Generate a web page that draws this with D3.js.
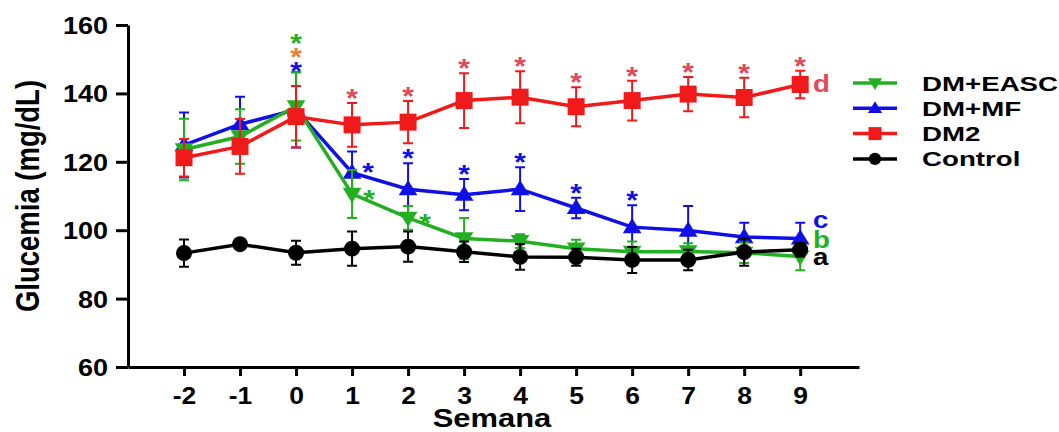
<!DOCTYPE html>
<html>
<head>
<meta charset="utf-8">
<script src="https://cdn.jsdelivr.net/npm/d3@7"></script>
<style>
  body { margin: 0; background: #fff; }
  svg text { font-family: "Liberation Sans", Arial, sans-serif; font-weight: bold; }
</style>
</head>
<body>
<div id="chart"></div>
<script>
// weeks (Semana)
var weeks = [-2, -1, 0, 1, 2, 3, 4, 5, 6, 7, 8, 9];
var yTicks = [60, 80, 100, 120, 140, 160];

// means and errors
var controlMean = [93.3, 95.9, 93.4, 94.6, 95.2, 93.7, 92.2, 92.1, 91.3, 91.3, 93.6, 94.3];
var controlErr  = [4.0, 1.0, 3.5, 5.0, 4.4, 3.0, 3.8, 2.5, 3.8, 3.0, 4.0, 2.0];
var dm2Mean = [121.2, 124.5, 133.2, 130.8, 131.6, 137.9, 138.9, 136.1, 137.9, 139.8, 138.8, 142.6];
var dm2Err  = [5.5, 8.0, 9.0, 6.4, 6.2, 8.0, 7.6, 5.7, 5.8, 5.0, 5.8, 4.0];
var mfMean = [124.9, 131.0, 135.2, 116.8, 112.0, 110.4, 112.0, 106.5, 100.9, 99.9, 98.0, 97.6];
var mfErr  = [9.5, 8.0, 11.0, 6.2, 7.6, 4.6, 6.4, 3.0, 6.4, 7.2, 4.2, 4.6];
var eascMean = [123.6, 127.4, 136.2, 110.6, 103.6, 97.6, 96.8, 94.6, 93.7, 93.8, 93.4, 92.3];
var eascErr  = [9.0, 8.0, 10.0, 7.0, 3.5, 6.0, 2.0, 2.6, 3.0, 2.4, 3.0, 4.0];

// significance marks (weeks)
var redStars = [1, 2, 3, 4, 5, 6, 7, 8, 9];
var blueStarsTop = [2, 3, 4, 5, 6];
var blueStarsSide = [1];
var greenStarsSide = [1, 2];

var width = 1059, height = 432;
var svg = d3.select("#chart").append("svg")
    .attr("width", width)
    .attr("height", height);

var x = d3.scaleLinear().domain([-3, 10.05]).range([128, 859]);
var y = d3.scaleLinear().domain([60, 160]).range([367, 25]);

var series = [
  {name: "DM+MF",   mean: mfMean,      err: mfErr,      color: "#1010e6", shape: "up"},
  {name: "DM+EASC", mean: eascMean,    err: eascErr,    color: "#22b022", shape: "down"},
  {name: "DM2",     mean: dm2Mean,     err: dm2Err,     color: "#f01a1a", shape: "square"},
  {name: "Control", mean: controlMean, err: controlErr, color: "#000000", shape: "circle"}
];

function drawMarker(sel, shape, color, s) {
  if (shape == "circle") {
    sel.append("circle").attr("r", s * 0.47).attr("fill", color);
  } else if (shape == "square") {
    sel.append("rect").attr("x", -s / 2).attr("y", -s / 2)
      .attr("width", s).attr("height", s).attr("fill", color);
  } else {
    var h = s * 0.9, w = s * 0.55;
    var pts = shape == "up"
      ? [[0, -h * 0.6], [w, h * 0.4], [-w, h * 0.4]]
      : [[0, h * 0.6], [w, -h * 0.4], [-w, -h * 0.4]];
    sel.append("path").attr("d", "M" + pts.join("L") + "Z").attr("fill", color);
  }
}

// axes
var yAxis = svg.append("g")
    .attr("transform", "translate(128,0)")
    .call(d3.axisLeft(y).tickValues(yTicks).tickSize(12).tickSizeOuter(0));
yAxis.selectAll("path, line").attr("stroke", "#000").attr("stroke-width", 3);
yAxis.selectAll("text")
    .attr("font-size", 23.5).attr("fill", "#000")
    .attr("x", -20 / 1.15).attr("dy", "0.36em")
    .attr("transform", "scale(1.15,1)");

var xAxis = svg.append("g")
    .attr("transform", "translate(0,367)")
    .call(d3.axisBottom(x).tickValues(weeks).tickSize(9).tickSizeOuter(0)
      .tickFormat(function(d) { return String(d); }));
xAxis.selectAll("path, line").attr("stroke", "#000").attr("stroke-width", 3);
xAxis.selectAll("text")
    .attr("font-size", 23).attr("fill", "#000")
    .attr("y", 37).attr("dy", 0)
    .attr("transform", "scale(1.15,1)")
    .attr("x", 0);

svg.append("text")
    .attr("transform", "translate(492,427) scale(1.19,1)")
    .attr("text-anchor", "middle").attr("font-size", 26)
    .text("Semana");

svg.append("text")
    .attr("transform", "translate(39,196) rotate(-90) scale(1,1.22)")
    .attr("text-anchor", "middle").attr("font-size", 27.5)
    .text("Glucemia (mg/dL)");

// series
series.forEach(function(s) {
  var g = svg.append("g");
  var pts = weeks.map(function(w, i) { return {w: w, m: s.mean[i], e: s.err[i]}; });
  g.selectAll(".eb").data(pts).enter().append("path")
    .attr("d", function(d) {
      var cx = x(d.w), t = y(d.m + d.e), b = y(d.m - d.e);
      return "M" + cx + "," + t + "V" + b +
        "M" + (cx - 5) + "," + t + "H" + (cx + 5) +
        "M" + (cx - 5) + "," + b + "H" + (cx + 5);
    })
    .attr("stroke", s.color).attr("stroke-width", 2).attr("fill", "none");
  g.append("path").datum(pts)
    .attr("d", d3.line().x(function(d) { return x(d.w); }).y(function(d) { return y(d.m); }))
    .attr("stroke", s.color).attr("stroke-width", 3.5).attr("fill", "none");
  g.selectAll(".mk").data(pts).enter().append("g")
    .attr("transform", function(d) { return "translate(" + x(d.w) + "," + y(d.m) + ")"; })
    .each(function() { drawMarker(d3.select(this), s.shape, s.color, 17); });
});

// asterisks (py = centre of the star)
function star(px, py, color) {
  svg.append("text")
    .attr("transform", "translate(" + px + "," + (py + 15) + ") scale(1.15,1)")
    .attr("text-anchor", "middle").attr("font-size", 26)
    .attr("font-weight", "normal")
    .attr("fill", color).text("*");
}
redStars.forEach(function(w) {
  var i = weeks.indexOf(w);
  star(x(w), y(dm2Mean[i] + dm2Err[i]) - 11, "#e2475c");
});
blueStarsTop.forEach(function(w) {
  var i = weeks.indexOf(w);
  star(x(w), y(mfMean[i] + mfErr[i]) - 11, "#1010e6");
});
blueStarsSide.forEach(function(w) {
  var i = weeks.indexOf(w);
  star(x(w) + 16, y(mfMean[i]) - 7, "#1010e6");
});
greenStarsSide.forEach(function(w) {
  var i = weeks.indexOf(w);
  star(x(w) + 17, y(eascMean[i]) - 1, "#22b022");
});
var i0 = weeks.indexOf(0);
var top0 = y(eascMean[i0] + eascErr[i0]);
star(x(0), top0 - 7, "#1010e6");
star(x(0), top0 - 21, "#e8803a");
star(x(0), top0 - 35, "#22b022");

// group letters
var letters = [
  {t: "d", color: "#e2475c", w: "normal"},
  {t: "c", color: "#1010e6", w: "bold"},
  {t: "b", color: "#22b022", w: "bold"},
  {t: "a", color: "#000000", w: "bold"}
];
var letterBase = [92, 228, 248, 265];
letters.forEach(function(l, k) {
  svg.append("text")
    .attr("transform", "translate(813," + letterBase[k] + ") scale(1.2,1)")
    .attr("font-size", 23).attr("font-weight", l.w)
    .attr("fill", l.color).text(l.t);
});

// legend
var legendOrder = ["DM+EASC", "DM+MF", "DM2", "Control"];
legendOrder.forEach(function(name, k) {
  var s = series.filter(function(d) { return d.name == name; })[0];
  var ly = 83 + k * 25.3;
  var lg = svg.append("g").attr("transform", "translate(0," + ly + ")");
  lg.append("line").attr("x1", 853).attr("x2", 897)
    .attr("stroke", s.color).attr("stroke-width", 3.5);
  var m = lg.append("g").attr("transform", "translate(875,0)");
  drawMarker(m, s.shape, s.color, 13);
  lg.append("text")
    .attr("transform", "translate(922,7.5) scale(1.35,1)")
    .attr("font-size", 20.5).text(name);
});
</script>
</body>
</html>
